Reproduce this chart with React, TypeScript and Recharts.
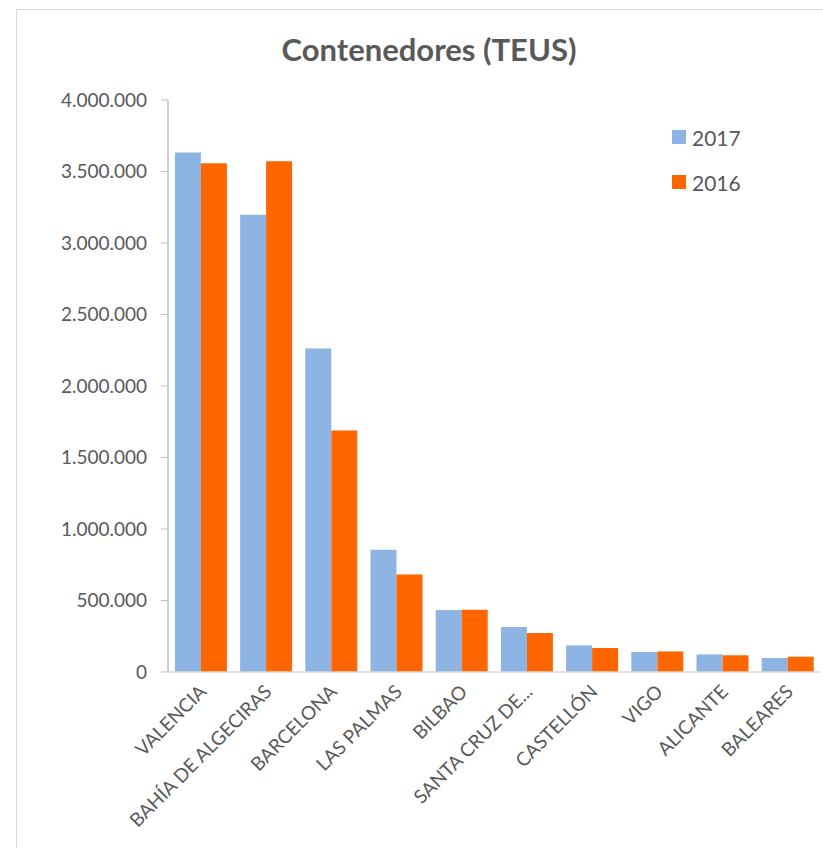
import React from 'react';
import { BarChart, Bar, XAxis, YAxis } from 'recharts';

const ports = ['VALENCIA', 'BAHÍA DE ALGECIRAS', 'BARCELONA', 'LAS PALMAS', 'BILBAO', 'SANTA CRUZ DE TENERIFE', 'CASTELLÓN', 'VIGO', 'ALICANTE', 'BALEARES'];
const tickLabels = ['VALENCIA', 'BAHÍA DE ALGECIRAS', 'BARCELONA', 'LAS PALMAS', 'BILBAO', 'SANTA CRUZ DE...', 'CASTELLÓN', 'VIGO', 'ALICANTE', 'BALEARES'];
const teus2017 = [3632000, 3198000, 2262000, 855000, 434000, 315000, 186000, 140000, 123000, 98000];
const teus2016 = [3557000, 3571000, 1689000, 681000, 435000, 273000, 168000, 144000, 117000, 107000];
const yTicks = [0, 500000, 1000000, 1500000, 2000000, 2500000, 3000000, 3500000, 4000000];
const seriesNames = ['2017', '2016'];

const data = ports.map((p, i) => ({ port: p, y2017: teus2017[i], y2016: teus2016[i] }));

const FONT = 'Lato, "Open Sans", sans-serif';
const TXT = '#595959';
const C2017 = '#8EB4E3';
const C2016 = '#FF6600';
const colors = [C2017, C2016];

const fmt = (v: number) => v.toLocaleString('de-DE');

const XTick = (props: any) => {
  const { x, y, index } = props;
  const ax = x + 7;
  const ay = y + 13;
  return (
    <text x={ax} y={ay} textAnchor="end" fill={TXT} fontSize={19} fontFamily={FONT} transform={`rotate(-45, ${ax}, ${ay})`}>
      {tickLabels[index]}
    </text>
  );
};

export default function App() {
  return (
    <div style={{ position: 'absolute', left: 0, top: 0, width: 823, height: 848, overflow: 'hidden', background: '#fff' }}>
      <div style={{ position: 'absolute', left: 16, top: 9, width: 840, height: 880, border: '1px solid #d9d9d9' }} />
      <div style={{ position: 'absolute', left: 0, top: 30, width: 858, textAlign: 'center', fontFamily: FONT, fontWeight: 700, fontSize: 31, color: TXT }}>
        Contenedores (TEUS)
      </div>
      <div style={{ position: 'absolute', left: 0, top: 0 }}>
        <BarChart width={823} height={848} data={data} margin={{ top: 100, right: 3, left: 0, bottom: 0 }} barCategoryGap="10.6%" barGap={0}>
          <XAxis dataKey="port" height={176} interval={0} tick={<XTick />} tickLine={false} axisLine={{ stroke: '#d9d9d9', strokeWidth: 1.5 }} />
          <YAxis width={168} domain={[0, 4000000]} ticks={yTicks} tickFormatter={fmt} tickSize={7} tickMargin={14}
            tick={{ fill: TXT, fontSize: 19, fontFamily: FONT }} tickLine={{ stroke: '#bfbfbf' }} axisLine={{ stroke: '#bfbfbf', strokeWidth: 1.5 }} />
          <Bar dataKey="y2017" name="2017" fill={C2017} isAnimationActive={false} />
          <Bar dataKey="y2016" name="2016" fill={C2016} isAnimationActive={false} />
        </BarChart>
      </div>
      <div style={{ position: 'absolute', left: 672, top: 125, fontFamily: FONT, color: TXT, fontSize: 21 }}>
        {seriesNames.map((n, i) => (
          <div key={n} style={{ display: 'flex', alignItems: 'center', height: 24, marginBottom: i === 0 ? 21 : 0 }}>
            <div style={{ width: 14, height: 14, background: colors[i], marginRight: 6 }} />
            <span>{n}</span>
          </div>
        ))}
      </div>
    </div>
  );
}
